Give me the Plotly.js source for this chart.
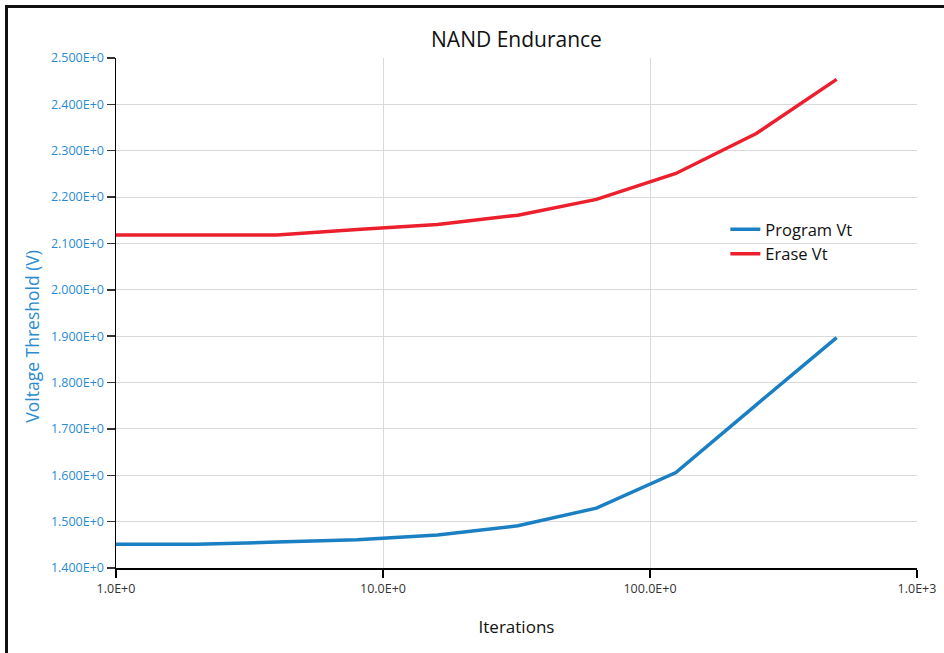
<!DOCTYPE html>
<html>
<head>
<meta charset="utf-8">
<script src="https://cdn.plot.ly/plotly-3.0.1.min.js"></script>
<style>
  html, body { margin: 0; padding: 0; background: #fff; overflow: hidden; }
  #myPlot { position: absolute; left: 0; top: 0; width: 944px; height: 653px; }
  #frame {
    position: absolute; left: 5px; top: 5px; width: 2000px; height: 2000px;
    border-top: 3px solid #111; border-left: 3px solid #111; pointer-events: none;
  }
</style>
</head>
<body>
<div id="myPlot"></div>
<div id="frame"></div>
<script>
// iterations (log scale)
const iterations = [1, 2, 4, 8, 16, 32, 63, 125, 250, 500];
const program_vt = [1.451, 1.451, 1.456, 1.461, 1.471, 1.491, 1.529, 1.606, 1.752, 1.897];
const erase_vt = [2.118, 2.118, 2.118, 2.130, 2.141, 2.161, 2.195, 2.251, 2.337, 2.454];

const y_tickvals = [1.4, 1.5, 1.6, 1.7, 1.8, 1.9, 2.0, 2.1, 2.2, 2.3, 2.4, 2.5];
const y_ticktext = ['1.400E+0', '1.500E+0', '1.600E+0', '1.700E+0', '1.800E+0', '1.900E+0',
  '2.000E+0', '2.100E+0', '2.200E+0', '2.300E+0', '2.400E+0', '2.500E+0'];
const x_tickvals = [1, 10, 100, 1000];
const x_ticktext = ['1.0E+0', '10.0E+0', '100.0E+0', '1.0E+3'];

const font_family = '"Open Sans", "Noto Sans", sans-serif';
const blue_text = '#2a8bd0';

const trace_program = {
  x: iterations,
  y: program_vt,
  type: 'scatter',
  mode: 'lines',
  name: 'Program Vt',
  line: { color: '#1b7fc3', width: 3.5 },
};

const trace_erase = {
  x: iterations,
  y: erase_vt,
  type: 'scatter',
  mode: 'lines',
  name: 'Erase Vt',
  line: { color: '#ec1f2d', width: 3.5 },
};

const layout = {
  width: 944,
  height: 653,
  margin: { l: 115.5, r: 27.3, t: 58, b: 85.3 },
  paper_bgcolor: '#fff',
  plot_bgcolor: '#fff',
  font: { family: font_family, color: '#222' },
  showlegend: true,
  title: {
    text: 'NAND Endurance',
    font: { size: 21, color: '#111', family: font_family },
    x: 0.5, xref: 'paper', xanchor: 'center',
    y: 1 - 40 / 653, yref: 'container', yanchor: 'middle',
  },
  xaxis: {
    type: 'log',
    range: [0, 3],
    tickvals: x_tickvals,
    ticktext: x_ticktext,
    tickfont: { size: 12.5, color: '#333' },
    ticks: 'outside', ticklen: 8, tickwidth: 1.5, tickcolor: '#000',
    showline: true, linecolor: '#000', linewidth: 1.5,
    showgrid: true, gridcolor: '#d9d9d9', gridwidth: 1,
    zeroline: false,
    title: { text: 'Iterations', font: { size: 17, color: '#111' }, standoff: 25 },
  },
  yaxis: {
    range: [1.4, 2.5],
    tickvals: y_tickvals,
    ticktext: y_ticktext,
    tickfont: { size: 12.5, color: blue_text },
    ticks: 'outside', ticklen: 8, tickwidth: 1.5, tickcolor: '#333',
    showline: true, linecolor: '#000', linewidth: 1.5,
    showgrid: true, gridcolor: '#d9d9d9', gridwidth: 1,
    zeroline: false,
  },
  annotations: [{
    text: 'Voltage Threshold (V)',
    xref: 'paper', yref: 'paper',
    x: (32 - 115.5) / 801.2, y: (567.7 - 336) / 509.7,
    xanchor: 'center', yanchor: 'middle',
    textangle: -90, showarrow: false,
    font: { size: 17.5, color: blue_text, family: font_family },
  }],
  legend: {
    x: (725 - 115.5) / 801.2, y: (567.7 - 212) / 509.7,
    xanchor: 'left', yanchor: 'top',
    bgcolor: 'rgba(0,0,0,0)',
    font: { size: 16.5, color: '#111' },
    tracegroupgap: 0,
  },
};

Plotly.newPlot('myPlot', [trace_program, trace_erase], layout, { displayModeBar: false, staticPlot: true });
</script>
</body>
</html>
